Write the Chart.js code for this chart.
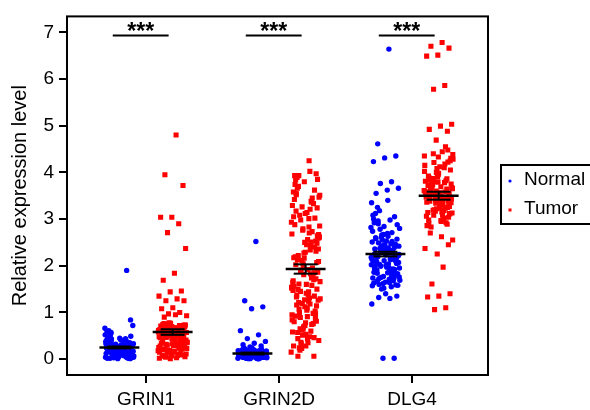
<!DOCTYPE html>
<html><head><meta charset="utf-8">
<script src="https://cdn.jsdelivr.net/npm/chart.js@4/dist/chart.umd.min.js"></script>
<style>html,body{margin:0;padding:0;background:#fff}canvas{display:block}</style>
</head><body><canvas id="c" width="590" height="410"></canvas>
<script>
const categories = ['GRIN1', 'GRIN2D', 'DLG4'];
const seriesNames = ['Normal', 'Tumor'];
const yTicks = [0, 1, 2, 3, 4, 5, 6, 7];
const significance = ['***', '***', '***'];

const normalGRIN1 = [0.27,0.12,0.35,0.05,0.21,0.44,0.18,0.09,0.31,0.02,0.26,0.15,0.38,0.07,0.23,0.49,0.11,0.29,0.04,0.19,
0.33,0.14,0.57,0.08,0.24,0.41,0.17,0.03,0.28,0.13,0.36,0.06,0.22,0.52,0.10,0.30,0.01,0.20,0.46,0.16,
0.25,0.72,0.09,0.34,0.05,0.27,0.12,0.40,0.18,0.03,0.23,0.61,0.14,0.32,0.07,0.21,0.43,0.11,0.26,0.02,
0.37,0.16,0.08,0.29,0.48,0.13,0.22,0.04,0.31,0.19,0.84,0.10,0.25,0.39,0.06,0.17,0.28,0.55,0.12,0.01,
0.24,0.34,0.15,0.08,0.42,0.20,0.03,0.27,0.66,0.11,0.18,0.30,0.05,0.23,0.36,0.14,0.09,0.26,0.50,0.02,
0.21,0.33,0.13,0.07,0.19,0.45,0.16,1.90,0.28,0.04,0.22,0.38,0.10,0.24,0.58,0.17,0.06,0.29,0.12,0.32];

const tumorGRIN1 = [4.80,3.95,3.72,3.04,3.04,2.90,2.71,2.37,1.84,1.69,1.46,1.44,1.35,1.29,1.25,1.25,1.10,1.08,1.00,0.97,0.93,0.95,0.90,
0.45,0.12,0.63,0.28,0.71,0.05,0.52,0.38,0.66,0.19,0.58,0.33,0.74,0.09,0.48,0.61,0.24,0.69,0.41,0.15,
0.56,0.31,0.77,0.02,0.50,0.64,0.27,0.43,0.70,0.11,0.59,0.36,0.67,0.21,0.53,0.07,0.46,0.62,0.30,0.73,
0.17,0.55,0.39,0.68,0.25,0.60,0.04,0.49,0.65,0.34,0.72,0.14,0.57,0.42,0.76,0.22,0.51,0.63,0.08,0.47,
0.69,0.29,0.58,0.37,0.75,0.18,0.54,0.66,0.26,0.44,0.71,0.10,0.60,0.35,0.64,0.20,0.52,0.01,0.48,0.67,
0.32,0.73,0.16,0.56,0.40,0.62,0.23,0.59,0.06,0.50,0.70,0.28,0.65,0.13,0.57,0.45,0.74,0.19,0.53,0.61,
0.03,0.47,0.68,0.33,0.58,0.24,0.72,0.11,0.55,0.64,0.38,0.69,0.15,0.51,0.60,0.27,0.66,0.08,0.49,0.78,
0.36,0.62,0.21,0.54,0.70];

const normalGRIN2D = [2.52,1.25,1.12,1.08,0.61,0.52,0.44,0.38,0.34,0.31,0.28,0.26,
0.08,0.15,0.03,0.11,0.19,0.06,0.13,0.01,0.17,0.09,0.22,0.04,0.12,0.07,0.16,0.02,0.10,0.20,0.05,0.14,
0.09,0.18,0.03,0.12,0.06,0.24,0.11,0.01,0.15,0.08,0.13,0.04,0.21,0.07,0.10,0.17,0.02,0.12,0.05,0.19,
0.09,0.14,0.03,0.11,0.23,0.06,0.16,0.08,0.01,0.13,0.10,0.18,0.04,0.07,0.15,0.12,0.02,0.20,0.09,0.05,
0.14,0.11,0.03,0.17,0.08,0.06,0.13,0.22,0.10,0.01,0.16,0.04,0.12,0.07,0.19,0.09,0.02,0.14,0.11,0.05,
0.18,0.08,0.03,0.13,0.10,0.06,0.21,0.15,0.01,0.12,0.07,0.16,0.04,0.09,0.11,0.02,0.14,0.05,0.17,0.08];

const tumorGRIN2D = [4.25,0.06,2.31,1.12,3.05,0.74,1.88,2.67,0.43,3.52,1.35,2.04,0.95,3.21,1.61,2.48,0.28,3.93,1.79,0.62,
2.85,1.24,3.66,0.87,2.16,1.47,3.38,0.19,2.59,1.05,3.84,1.70,0.51,2.93,1.31,2.22,0.81,3.12,1.56,2.73,
0.36,3.47,1.92,1.16,2.40,0.69,3.29,1.83,0.24,2.64,1.41,3.74,0.98,2.11,1.66,3.01,0.57,2.53,1.27,3.58,
1.74,0.89,2.36,1.09,3.17,0.46,2.79,1.52,4.02,1.21,2.07,0.78,3.42,1.95,0.33,2.62,1.38,3.89,1.03,2.27,
1.64,0.60,3.08,1.86,2.45,0.92,3.33,1.19,0.15,2.70,1.49,3.97,0.72,2.17,1.58,2.98,0.40,2.56,1.33,3.62,
1.99,0.84,2.34,1.07,3.24,0.53,2.88,1.76,0.23,3.51,1.44,2.13,0.97,3.80,1.68,2.51,0.65,1.26,3.14,2.02,
0.06,2.76,1.54,0.48,3.70,1.14,2.29,0.80,3.45,1.91,2.60,0.35,1.37,3.02,1.81,0.58,2.42,1.00,3.85,1.60,
2.19,0.76,3.26,1.29,2.83,0.44,1.72,2.50,0.28,3.36,1.45,2.09,0.91,3.55,1.85,0.64,2.68,1.18,3.93,1.50];

const normalDLG4 = [6.64,4.61,4.35,4.31,4.23,3.80,3.76,3.66,3.62,3.55,0.02,0.02,1.18,1.30,1.32,1.35,1.40,
2.25,1.82,2.61,1.95,2.38,1.67,2.12,2.84,1.74,2.47,2.03,1.58,2.29,3.12,1.89,2.55,2.18,1.71,2.96,2.08,
2.34,1.63,2.71,1.99,2.42,1.85,2.20,3.05,1.77,2.51,2.15,1.60,2.88,2.01,2.36,1.93,2.66,1.69,2.27,3.25,
1.80,2.44,2.10,1.55,2.78,2.22,1.98,2.58,1.73,2.31,3.35,1.87,2.49,2.05,1.65,2.92,2.17,2.40,1.76,2.63,
1.91,2.26,1.52,2.74,2.13,3.18,1.83,2.53,2.00,1.68,2.35,2.82,1.96,2.19,1.59,2.45,3.00,1.78,2.28,2.07,
2.69,1.88,2.39,1.62,2.14,2.98,1.72,2.57,2.23,1.94,2.32,1.50,2.80,2.04,1.84,2.46,2.11,3.08,1.70,2.37,
2.21,1.97,2.60,1.79,2.43,2.02,1.64,2.90,2.16,2.30,1.86,2.52,1.75,2.24,3.40,2.09,1.92,2.67,1.57,2.33];

const tumorDLG4 = [6.78,6.70,6.66,6.51,6.49,5.86,5.78,5.03,4.99,4.92,4.88,4.69,2.37,1.97,1.61,1.40,1.35,1.33,1.10,1.06,2.55,2.62,2.70,2.45,2.25,
3.52,3.18,3.87,3.35,4.12,2.98,3.64,3.41,4.35,3.09,3.76,3.27,3.95,2.86,3.58,4.21,3.13,3.69,3.46,4.48,
3.22,3.81,3.01,3.55,4.05,3.37,3.72,2.92,3.49,4.28,3.15,3.63,3.30,3.90,3.06,3.78,4.40,3.43,3.24,3.85,
2.89,3.60,4.15,3.33,3.70,3.11,3.98,3.50,4.55,3.20,3.66,2.95,3.83,3.39,4.08,3.57,3.02,3.74,4.30,3.28,
3.92,3.45,3.17,3.61,4.44,2.83,3.54,3.79,3.36,4.18,3.08,3.67,3.48,3.88,3.25,4.00,3.59,2.99,3.71,4.25,
3.40,3.14,3.82,3.53,4.38,3.31,3.62,3.04,3.95,3.47,4.10,3.19,3.75,3.56,2.91,3.86,3.34,4.02,3.44,3.68,
3.12,4.33,3.51,3.23,3.80,3.65,2.97,3.38,4.22,3.58];

const normalMean = [0.25, 0.12, 2.25];
const normalSem  = [0.02, 0.02, 0.05];
const tumorMean  = [0.58, 1.93, 3.50];
const tumorSem   = [0.06, 0.10, 0.085];

// layout constants (positions, not data)
const SIDE = 0.2, JIT = 0.11, MEAN_HALF = 0.15, CAP_HALF = 0.09;
function jitter(i) { return (((i + 1) * 0.6180339887) % 1 - 0.5) * 2 * JIT; }
function buildPoints(groups, side) {
  const out = [];
  groups.forEach((arr, c) => arr.forEach((v, i) => out.push({ x: c + side + jitter(i), y: v })));
  return out;
}

const FONT = "'Liberation Sans', Arial, sans-serif";

const overlay = {
  id: 'overlay',
  afterDatasetsDraw(chart) {
    const { ctx, chartArea: a, scales: { x, y } } = chart;
    ctx.save();
    ctx.strokeStyle = '#000';
    ctx.lineCap = 'butt';
    const seg = (x1, y1, x2, y2, w) => { ctx.lineWidth = w; ctx.beginPath(); ctx.moveTo(x1, y1); ctx.lineTo(x2, y2); ctx.stroke(); };
    const drawStat = (means, sems, side) => {
      means.forEach((m, c) => {
        const cx = c + side;
        const py = y.getPixelForValue(m);
        seg(x.getPixelForValue(cx - MEAN_HALF), py, x.getPixelForValue(cx + MEAN_HALF), py, 2.5);
        const pt = y.getPixelForValue(m + sems[c]), pb = y.getPixelForValue(m - sems[c]);
        const px = x.getPixelForValue(cx);
        seg(px, pt, px, pb, 2);
        seg(x.getPixelForValue(cx - CAP_HALF), pt, x.getPixelForValue(cx + CAP_HALF), pt, 2);
        seg(x.getPixelForValue(cx - CAP_HALF), pb, x.getPixelForValue(cx + CAP_HALF), pb, 2);
      });
    };
    drawStat(normalMean, normalSem, -SIDE);
    drawStat(tumorMean, tumorSem, SIDE);
    // significance bars
    significance.forEach((s, c) => {
      const ly = y.getPixelForValue(6.93);
      const x1 = x.getPixelForValue(c - 0.25), x2 = x.getPixelForValue(c + 0.17);
      seg(x1, ly, x2, ly, 2);
      ctx.fillStyle = '#000';
      ctx.font = 'bold 23px ' + FONT;
      ctx.textAlign = 'center';
      ctx.textBaseline = 'alphabetic';
      ctx.fillText(s, (x1 + x2) / 2, ly + 3);
    });
    // frame
    ctx.lineWidth = 2;
    ctx.strokeRect(a.left, a.top, a.right - a.left, a.bottom - a.top);
    ctx.restore();
  },
  afterDraw(chart) {
    const { ctx } = chart;
    ctx.save();
    ctx.strokeStyle = '#000';
    ctx.lineWidth = 2;
    ctx.strokeRect(501, 165, 100, 59);
    ctx.font = '19px ' + FONT;
    ctx.textBaseline = 'middle';
    ctx.textAlign = 'left';
    ctx.fillStyle = '#000';
    ctx.fillText(seriesNames[0], 524, 180);
    ctx.fillText(seriesNames[1], 524, 209);
    ctx.fillStyle = '#0000ff';
    ctx.beginPath(); ctx.arc(510, 181, 1.6, 0, Math.PI * 2); ctx.fill();
    ctx.fillStyle = '#ff0000';
    ctx.fillRect(508.5, 208.5, 3, 3);
    ctx.restore();
  }
};

new Chart(document.getElementById('c'), {
  type: 'scatter',
  data: {
    datasets: [
      { label: seriesNames[0], data: buildPoints([normalGRIN1, normalGRIN2D, normalDLG4], -SIDE),
        pointStyle: 'circle', pointRadius: 2.7, backgroundColor: '#0000ff', borderWidth: 0 },
      { label: seriesNames[1], data: buildPoints([tumorGRIN1, tumorGRIN2D, tumorDLG4], SIDE),
        pointStyle: 'rect', pointRadius: 3.6, backgroundColor: '#ff0000', borderWidth: 0 }
    ]
  },
  options: {
    responsive: false,
    animation: false,
    layout: { padding: { left: 0, right: 102, top: 12, bottom: 0 } },
    plugins: { legend: { display: false }, tooltip: { enabled: false } },
    scales: {
      x: {
        type: 'linear', min: -0.594, max: 2.571,
        afterBuildTicks: s => { s.ticks = categories.map((_, i) => ({ value: i })); },
        afterFit: s => { s.height = 35; },
        ticks: { callback: v => categories[v], color: '#000', font: { family: FONT, size: 19 }, padding: 5, autoSkip: false, maxRotation: 0 },
        grid: { drawOnChartArea: false, drawTicks: true, tickLength: 8, color: '#000', lineWidth: 2 },
        border: { display: false }
      },
      y: {
        min: -0.34, max: 7.34,
        afterBuildTicks: s => { s.ticks = yTicks.map(v => ({ value: v })); },
        afterFit: s => { s.width = 67; },
        ticks: { color: '#000', font: { family: FONT, size: 19 }, padding: 5 },
        grid: { drawOnChartArea: false, drawTicks: true, tickLength: 8, color: '#000', lineWidth: 2 },
        border: { display: false },
        title: { display: true, text: 'Relative expression level', color: '#000', font: { family: FONT, size: 20 }, padding: { top: 8, bottom: 0 } }
      }
    }
  },
  plugins: [overlay]
});
</script>
</body></html>
